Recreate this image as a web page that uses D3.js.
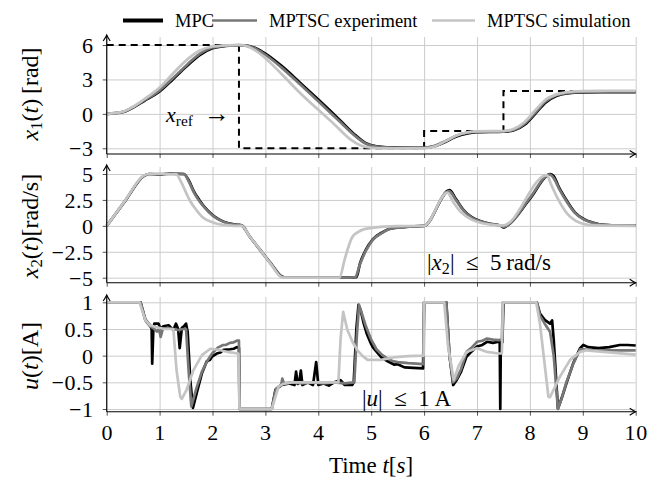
<!DOCTYPE html>
<html>
<head>
<meta charset="utf-8">
<script src="https://cdn.jsdelivr.net/npm/d3@7"></script>
<style>
  body { margin: 0; background: #fff; }
  svg text { font-family: "Liberation Serif", "Times New Roman", serif; fill: #000; }
</style>
</head>
<body>
<svg id="chart" width="649" height="480"></svg>
<script>
// data, [t, value]
const refX1 = [[0, 6], [2.5, -3], [6, -1.5], [7.5, 2], [8.9, 2]];

const x1Mpc = [[0,0],[0.3,0.15],[0.5,0.55],[0.7,1.1],[1.0,1.95],[1.25,3.0],[1.5,4.1],[1.75,5.1],[2.0,5.72],[2.25,5.92],[2.5,5.98],[2.6,5.97],[2.8,5.75],[3.0,5.25],[3.3,4.2],[3.66,2.7],[4.0,1.25],[4.4,-0.5],[4.7,-1.85],[4.9,-2.55],[5.1,-2.82],[5.4,-2.92],[5.8,-2.95],[6.0,-2.95],[6.2,-2.82],[6.4,-2.45],[6.6,-2.0],[6.8,-1.72],[7.0,-1.6],[7.5,-1.56],[7.7,-1.43],[7.9,-0.95],[8.1,0.0],[8.3,1.0],[8.5,1.55],[8.7,1.78],[9.0,1.88],[9.5,1.9],[10,1.9]];
const x1Exp = [[0,0],[0.3,0.16],[0.5,0.6],[0.7,1.15],[1.0,2.05],[1.25,3.1],[1.5,4.2],[1.75,5.2],[2.0,5.78],[2.25,5.94],[2.5,5.99],[2.6,5.97],[2.8,5.72],[3.0,5.15],[3.3,4.05],[3.66,2.55],[4.0,1.1],[4.4,-0.65],[4.7,-1.95],[4.9,-2.6],[5.1,-2.85],[5.4,-2.93],[6.0,-2.93],[6.2,-2.78],[6.4,-2.38],[6.6,-1.92],[6.8,-1.66],[7.0,-1.57],[7.5,-1.53],[7.7,-1.38],[7.9,-0.85],[8.1,0.1],[8.3,1.1],[8.5,1.62],[8.7,1.82],[9.0,1.92],[9.5,1.95],[10,1.95]];
const x1Sim = [[0,0],[0.3,0.17],[0.5,0.62],[0.7,1.25],[1.0,2.3],[1.25,3.5],[1.5,4.65],[1.75,5.5],[2.0,5.87],[2.25,5.96],[2.5,6.0],[2.6,5.96],[2.8,5.55],[3.0,4.85],[3.3,3.5],[3.66,1.8],[4.0,0.35],[4.3,-0.9],[4.6,-2.2],[4.8,-2.75],[5.0,-2.95],[5.3,-3.0],[6.0,-3.0],[6.2,-2.85],[6.4,-2.4],[6.6,-1.9],[6.8,-1.62],[7.0,-1.52],[7.5,-1.5],[7.7,-1.3],[7.9,-0.7],[8.1,0.3],[8.3,1.25],[8.5,1.7],[8.7,1.9],[9.0,1.98],[9.5,2.0],[10,2.0]];

const x2Mpc = [[0,0],[0.35,2.4],[0.7,4.8],[0.8,5.0],[1.0,4.95],[1.2,5.05],[1.46,5.0],[1.55,4.4],[1.65,3.3],[1.75,2.5],[1.86,1.75],[2.0,1.05],[2.13,0.6],[2.3,0.25],[2.48,0.1],[2.55,0.05],[2.7,-1.0],[2.9,-2.3],[3.1,-3.6],[3.3,-4.85],[3.4,-5.0],[4.0,-5.0],[4.5,-5.0],[4.72,-4.95],[4.79,-3.6],[4.9,-2.3],[5.03,-1.3],[5.2,-0.65],[5.34,-0.3],[5.65,-0.1],[6.0,0],[6.48,3.45],[6.6,2.6],[6.75,1.5],[6.9,0.85],[7.06,0.47],[7.25,0.2],[7.45,0.0],[7.5,-0.15],[7.55,-0.05],[8.0,2.6],[8.39,5.0],[8.45,4.8],[8.55,3.7],[8.7,2.4],[8.85,1.3],[9.02,0.65],[9.2,0.3],[9.4,0.1],[9.7,0.05],[10,0.05]];
const x2Exp = [[0,0],[0.35,2.45],[0.7,4.82],[0.8,5.0],[1.0,5.0],[1.2,5.0],[1.46,4.98],[1.55,4.3],[1.65,3.2],[1.75,2.4],[1.86,1.7],[2.0,1.0],[2.13,0.58],[2.3,0.22],[2.48,0.08],[2.55,0.04],[2.7,-1.0],[2.9,-2.35],[3.1,-3.65],[3.3,-4.88],[3.4,-5.0],[4.0,-5.0],[4.5,-5.0],[4.7,-4.95],[4.78,-3.8],[4.9,-2.4],[5.03,-1.35],[5.2,-0.7],[5.34,-0.32],[5.65,-0.1],[6.0,0],[6.47,3.35],[6.6,2.5],[6.75,1.45],[6.9,0.8],[7.06,0.45],[7.25,0.18],[7.45,0.0],[7.5,-0.1],[7.55,-0.03],[8.0,2.7],[8.37,4.95],[8.45,4.6],[8.55,3.6],[8.7,2.3],[8.85,1.25],[9.02,0.6],[9.2,0.28],[9.4,0.1],[9.7,0.05],[10,0.05]];
const x2Sim = [[0,0],[0.35,2.45],[0.7,4.85],[0.8,5.0],[1.31,5.0],[1.4,4.3],[1.5,3.2],[1.58,2.37],[1.7,1.5],[1.82,0.8],[2.0,0.35],[2.13,0.15],[2.3,0.05],[2.5,0],[2.55,0],[2.7,-1.0],[2.9,-2.3],[3.1,-3.65],[3.3,-4.95],[3.35,-5.0],[4.4,-5.0],[4.5,-3.2],[4.64,-1.1],[4.75,-0.6],[4.87,-0.32],[5.18,-0.1],[5.5,-0.03],[6.0,0],[6.44,3.2],[6.55,2.3],[6.7,1.3],[6.9,0.6],[7.1,0.25],[7.3,0.1],[7.5,0.05],[8.32,4.9],[8.4,4.0],[8.55,2.4],[8.7,1.2],[8.86,0.5],[9.1,0.1],[9.4,0.02],[10,0]];

const uMpc = [[0,1],[0.64,1],[0.73,0.68],[0.82,0.57],[0.85,0.5],[0.86,-0.15],[0.88,0.45],[0.9,0.6],[0.98,0.6],[1.02,0.5],[1.07,0.55],[1.17,0.57],[1.22,0.52],[1.26,0.48],[1.31,0.6],[1.35,0.5],[1.38,0.14],[1.42,0.52],[1.46,0.55],[1.5,0.6],[1.53,0.45],[1.58,-0.46],[1.63,-0.98],[1.7,-0.71],[1.8,-0.33],[1.89,-0.11],[1.95,-0.08],[1.99,-0.02],[2.08,0.04],[2.15,0.06],[2.21,0.11],[2.33,0.12],[2.4,0.13],[2.46,0.16],[2.5,0.15],[2.51,-1],[3.12,-1],[3.19,-0.64],[3.31,-0.55],[3.45,-0.52],[3.55,-0.55],[3.58,-0.3],[3.61,-0.53],[3.64,-0.5],[3.67,-0.28],[3.7,-0.55],[3.8,-0.5],[3.9,-0.55],[3.96,-0.12],[4.0,-0.55],[4.1,-0.52],[4.2,-0.56],[4.3,-0.5],[4.42,-0.46],[4.5,-0.55],[4.64,-0.55],[4.67,-0.5],[4.72,0.5],[4.76,0.95],[4.8,0.85],[4.86,0.6],[4.92,0.4],[4.98,0.26],[5.03,0.16],[5.08,0.1],[5.19,-0.03],[5.32,-0.11],[5.44,-0.17],[5.5,-0.16],[5.63,-0.22],[5.8,-0.23],[5.98,-0.24],[6.0,1],[6.42,1],[6.48,0.0],[6.55,-0.55],[6.62,-0.45],[6.7,-0.3],[6.8,-0.02],[6.9,0.08],[7.0,0.17],[7.1,0.2],[7.19,0.26],[7.3,0.24],[7.41,0.26],[7.43,0.25],[7.44,-1],[7.45,0.25],[7.48,0.25],[7.5,1],[8.13,1],[8.19,0.79],[8.28,0.67],[8.38,0.6],[8.42,0.66],[8.45,0.3],[8.53,-0.99],[8.6,-0.8],[8.69,-0.52],[8.82,-0.14],[8.95,0.14],[9.01,0.2],[9.1,0.16],[9.3,0.14],[9.5,0.16],[9.7,0.2],[9.85,0.2],[10,0.19]];
const uExp = [[0,1],[0.64,1],[0.73,0.66],[0.82,0.55],[0.9,0.5],[0.95,0.45],[0.99,0.5],[1.02,0.35],[1.06,0.5],[1.15,0.52],[1.25,0.5],[1.35,0.48],[1.45,0.5],[1.5,0.5],[1.55,-0.3],[1.6,-0.95],[1.7,-0.6],[1.8,-0.3],[1.9,-0.1],[2.0,0.05],[2.1,0.15],[2.2,0.2],[2.25,0.2],[2.33,0.24],[2.4,0.25],[2.46,0.28],[2.5,0.28],[2.51,-1],[3.12,-1],[3.2,-0.62],[3.3,-0.54],[3.32,-0.43],[3.35,-0.52],[3.5,-0.5],[3.7,-0.52],[3.9,-0.5],[4.1,-0.52],[4.3,-0.5],[4.5,-0.52],[4.68,-0.5],[4.73,0.4],[4.77,0.95],[4.82,0.8],[4.9,0.55],[5.0,0.3],[5.1,0.12],[5.2,0.02],[5.3,-0.05],[5.4,-0.1],[5.5,-0.12],[5.7,-0.14],[5.85,-0.15],[5.99,-0.16],[6.0,1],[6.42,1],[6.48,0.0],[6.55,-0.5],[6.62,-0.42],[6.7,-0.25],[6.8,0.07],[6.9,0.15],[7.0,0.26],[7.1,0.28],[7.19,0.32],[7.3,0.3],[7.41,0.29],[7.47,0.3],[7.49,1],[8.13,1],[8.19,0.75],[8.28,0.6],[8.38,0.45],[8.45,0.0],[8.53,-1.0],[8.6,-0.8],[8.69,-0.5],[8.82,-0.15],[8.95,0.12],[9.0,0.12],[9.2,0.1],[9.5,0.1],[9.8,0.1],[10,0.1]];
const uSim = [[0,1],[0.62,1],[0.73,0.67],[0.82,0.57],[0.95,0.53],[1.1,0.5],[1.26,0.5],[1.32,-0.27],[1.39,-0.77],[1.42,-0.81],[1.51,-0.64],[1.64,-0.27],[1.8,0.01],[1.96,0.13],[2.11,0.11],[2.33,0.06],[2.49,0.04],[2.51,-1],[3.12,-1],[3.19,-0.77],[3.25,-0.58],[3.34,-0.53],[3.5,-0.5],[4.38,-0.5],[4.42,0.3],[4.47,0.82],[4.55,0.48],[4.65,0.25],[4.74,0.1],[4.83,0.0],[4.93,-0.08],[5.19,-0.08],[5.44,-0.03],[5.7,-0.01],[5.99,0],[6.0,1],[6.38,1],[6.45,0.2],[6.56,-0.46],[6.65,-0.2],[6.8,0.07],[7.0,0.14],[7.19,0.07],[7.41,0.04],[7.47,0.04],[7.49,1],[8.12,1],[8.19,0.6],[8.35,-0.77],[8.38,-0.78],[8.57,-0.39],[8.76,-0.08],[8.95,0.07],[9.07,0.1],[9.5,0.06],[10,0.02]];

const seriesNames = ["MPC", "MPTSC experiment", "MPTSC simulation"];
const seriesColors = ["#000000", "#777777", "#c4c4c4"];
const xTicks = [0, 1, 2, 3, 4, 5, 6, 7, 8, 9, 10];

const svg = d3.select("#chart");
const x = d3.scaleLinear().domain([0, 10]).range([106.7, 635.7]);

const panels = [
  { y: d3.scaleLinear().domain([-3, 6]).range([148.3, 45]), top: 35, bottom: 154, ticks: [-3, 0, 3, 6],
    series: [x1Mpc, x1Exp, x1Sim], curve: d3.curveMonotoneX },
  { y: d3.scaleLinear().domain([-5, 5]).range([277.7, 174]), top: 165, bottom: 282.7, ticks: [-5, -2.5, 0, 2.5, 5],
    series: [x2Mpc, x2Exp, x2Sim], curve: d3.curveMonotoneX },
  { y: d3.scaleLinear().domain([-1, 1]).range([409, 302.3]), top: 295, bottom: 411.7, ticks: [-1, -0.5, 0, 0.5, 1],
    series: [uMpc, uExp, uSim], curve: d3.curveLinear }
];

const fmt = d => (d < 0 ? "\u2212" : "") + Math.abs(d);

function arrowHead(g, px, py, dir) {
  // small curved arrow tip
  const p = dir === "up"
    ? `M${px-3.5},${py+6} Q${px-0.8},${py+2} ${px},${py} Q${px+0.8},${py+2} ${px+3.5},${py+6}`
    : `M${px-6},${py-3.5} Q${px-2},${py-0.8} ${px},${py} Q${px-2},${py+0.8} ${px-6},${py+3.5}`;
  g.append("path").attr("d", p).attr("fill", "none").attr("stroke", "#000").attr("stroke-width", 1.1);
}

panels.forEach((p, i) => {
  const g = svg.append("g");
  // grid
  g.append("g")
    .attr("transform", `translate(0,${p.bottom})`)
    .call(d3.axisBottom(x).tickValues(xTicks).tickSize(-(p.bottom - p.top - 2)).tickFormat(""))
    .call(a => a.select(".domain").remove())
    .call(a => a.selectAll("line").attr("stroke", "#cccccc").attr("stroke-width", 1));
  g.append("g")
    .attr("transform", `translate(${x.range()[0]},0)`)
    .call(d3.axisLeft(p.y).tickValues(p.ticks).tickSize(-(x.range()[1] - x.range()[0])).tickFormat(""))
    .call(a => a.select(".domain").remove())
    .call(a => a.selectAll("line").attr("stroke", "#cccccc").attr("stroke-width", 1));

  // y ticks + labels
  g.append("g")
    .attr("transform", `translate(${x.range()[0]},0)`)
    .call(d3.axisLeft(p.y).tickValues(p.ticks).tickSize(4).tickPadding(9).tickFormat(fmt))
    .call(a => a.select(".domain").remove())
    .call(a => a.selectAll("line").attr("stroke", "#555"))
    .call(a => a.selectAll("text").attr("font-size", 22).attr("font-family", "Liberation Serif")
      .attr("dy", "0.34em").attr("letter-spacing", 0.6));

  // x ticks
  const xa = g.append("g")
    .attr("transform", `translate(0,${p.bottom})`)
    .call(d3.axisBottom(x).tickValues(xTicks).tickSize(4).tickPadding(9).tickFormat(i === 2 ? d3.format("d") : ""))
    .call(a => a.select(".domain").remove())
    .call(a => a.selectAll("line").attr("stroke", "#555"));
  xa.selectAll("text").attr("font-size", 22).attr("font-family", "Liberation Serif").attr("letter-spacing", 0.6);

  // reference
  if (i === 0) {
    g.append("path").datum(refX1)
      .attr("fill", "none").attr("stroke", "#000").attr("stroke-width", 2)
      .attr("stroke-dasharray", "7,5")
      .attr("d", d3.line().x(d => x(d[0])).y(d => p.y(d[1])).curve(d3.curveStepAfter));
  }

  // series
  p.series.forEach((s, k) => {
    g.append("path").datum(s)
      .attr("fill", "none").attr("stroke", seriesColors[k])
      .attr("stroke-width", 2.7).attr("stroke-linejoin", "round")
      .attr("d", d3.line().x(d => x(d[0])).y(d => p.y(d[1])).curve(p.curve));
  });

  // axis lines with arrows
  g.append("line").attr("x1", x.range()[0]).attr("x2", x.range()[0])
    .attr("y1", p.bottom).attr("y2", p.top).attr("stroke", "#000").attr("stroke-width", 1.1);
  arrowHead(g, x.range()[0], p.top, "up");
  g.append("line").attr("x1", x.range()[0]).attr("x2", x.range()[1])
    .attr("y1", p.bottom).attr("y2", p.bottom).attr("stroke", "#000").attr("stroke-width", 1.1);
  arrowHead(g, x.range()[1], p.bottom, "right");
});

// mixed italic / upright text
function richText(parent, parts, size) {
  const t = parent.append("text").attr("font-size", size);
  parts.forEach(([txt, style]) => {
    const s = t.append("tspan").text(txt);
    if (style === "i") s.attr("font-style", "italic");
    if (style === "sub") s.attr("font-size", size * 0.7).attr("dy", 4);
    if (style === "back") s.attr("dy", -4);
  });
  return t;
}

// y axis titles
richText(svg, [["x", "i"], ["1", "sub"], ["(", "back"], ["t", "i"], [")\u2009[rad]", ""]], 24)
  .attr("text-anchor", "middle").attr("transform", "translate(38,94) rotate(-90)");
richText(svg, [["x", "i"], ["2", "sub"], ["(", "back"], ["t", "i"], [")[rad/s]", ""]], 24)
  .attr("text-anchor", "middle").attr("transform", "translate(38,226) rotate(-90)");
richText(svg, [["u", "i"], ["(", ""], ["t", "i"], [")[A]", ""]], 24)
  .attr("text-anchor", "middle").attr("transform", "translate(38,356) rotate(-90)");

// x axis title
richText(svg, [["Time ", ""], ["t", "i"], ["[", ""], ["s", "i"], ["]", ""]], 23)
  .attr("text-anchor", "middle").attr("x", 371).attr("y", 473);

// annotations
richText(svg, [["x", "i"], ["ref", "sub"]], 22).attr("x", 166).attr("y", 122);
svg.append("text").attr("x", 204).attr("y", 122).attr("font-size", 26).text("\u2192");
richText(svg, [["|", ""], ["x", "i"], ["2", "sub"], ["|\u2002\u2264\u20025\u2009rad/s", "back"]], 23)
  .attr("x", 427).attr("y", 270);
richText(svg, [["|", ""], ["u", "i"], ["|\u2002\u2264\u20021\u2009A", ""]], 23)
  .attr("x", 362).attr("y", 406);

// legend
const legX = [123, 212, 432];
const legLen = [40, 45, 43];
const legW = [4.2, 2.4, 2.4];
seriesNames.forEach((n, k) => {
  svg.append("line").attr("x1", legX[k]).attr("x2", legX[k] + legLen[k])
    .attr("y1", 20.5).attr("y2", 20.5)
    .attr("stroke", seriesColors[k]).attr("stroke-width", legW[k]);
  svg.append("text").attr("x", legX[k] + legLen[k] + 12).attr("y", 26.5)
    .attr("font-size", 18.5).text(n);
});
</script>
</body>
</html>
